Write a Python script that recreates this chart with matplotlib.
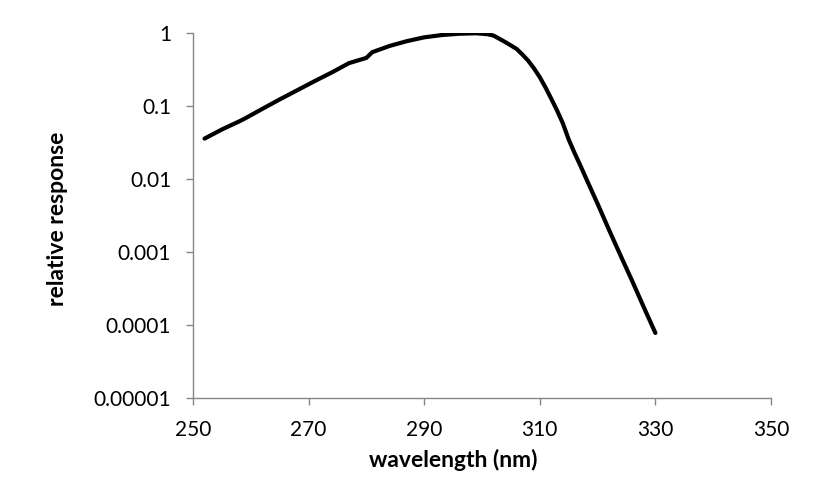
import numpy as np
import matplotlib.pyplot as plt

# ===============================
# data
# ===============================

wavelength = [252, 255, 258, 259, 262, 265, 268, 271, 274, 277, 280, 281,
              284, 287, 290, 293, 296, 299, 301, 302, 304, 306, 307, 308,
              309, 310, 311, 312, 313, 314, 315, 316, 317, 318, 320, 322,
              324, 326, 328, 330]
response = [0.036, 0.048, 0.062, 0.068, 0.092, 0.124, 0.165, 0.22, 0.29,
            0.39, 0.46, 0.55, 0.67, 0.78, 0.88, 0.945, 0.985, 1.0, 0.97,
            0.93, 0.76, 0.61, 0.51, 0.42, 0.33, 0.25, 0.18, 0.126, 0.087,
            0.058, 0.035, 0.023, 0.0155, 0.0103, 0.0046, 0.0020, 0.00089,
            0.00040, 0.000175, 0.000078]

x_ticks = [250, 270, 290, 310, 330, 350]
y_ticks = [1e-5, 1e-4, 1e-3, 1e-2, 1e-1, 1]
y_tick_labels = ["0.00001", "0.0001", "0.001", "0.01", "0.1", "1"]

# ===============================
# plot
# ===============================

plt.rcParams['font.family'] = ['Lato', 'DejaVu Sans']
axis_grey = "#868686"

fig = plt.figure(figsize=(8.15, 4.88), dpi=100)
ax = fig.add_axes([0.2368, 0.1844, 0.946 - 0.2368, 0.9318 - 0.1844])

ax.plot(wavelength, response, color="black", lw=3.0,
        solid_capstyle="round", solid_joinstyle="round")

ax.set_yscale("log")
ax.set_xlim(250, 350)
ax.set_ylim(1e-5, 1)
ax.set_xticks(x_ticks)
ax.set_yticks(y_ticks)
ax.set_yticklabels(y_tick_labels)
ax.minorticks_off()

for side in ["top", "right"]:
    ax.spines[side].set_visible(False)
for side in ["left", "bottom"]:
    ax.spines[side].set_color(axis_grey)
    ax.spines[side].set_linewidth(1.0)

ax.tick_params(axis="both", colors=axis_grey, length=4.7, width=1.0,
               labelcolor="black", labelsize=15)
ax.tick_params(axis="y", pad=11)
ax.tick_params(axis="x", pad=11)

ax.set_xlabel("wavelength (nm)", fontsize=16.5, fontweight="bold")
ax.set_ylabel("relative response", fontsize=16.5, fontweight="bold")
ax.xaxis.set_label_coords(0.45, -0.14)
ax.yaxis.label.set_va("center")
ax.yaxis.set_label_coords(-0.235, 0.49)

fig.savefig("out.png", dpi=100)
